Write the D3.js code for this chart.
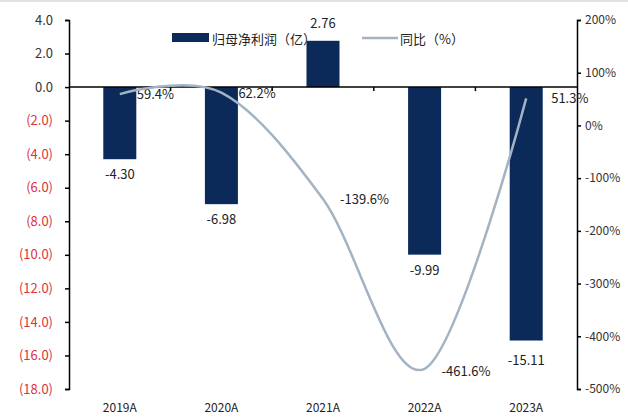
<!DOCTYPE html>
<html><head><meta charset="utf-8">
<script src="https://cdn.jsdelivr.net/npm/d3@7"></script>
<style>body{margin:0;background:#fff}svg{display:block}text{font-family:"Noto Sans CJK SC","DejaVu Sans",sans-serif}</style>
</head><body><svg id="c" width="628" height="418"></svg>
<script>
const categories = ["2019A","2020A","2021A","2022A","2023A"];
const profit = [-4.30,-6.98,2.76,-9.99,-15.11];
const profitLabels = ["-4.30","-6.98","2.76","-9.99","-15.11"];
const yoy = [59.4,62.2,-139.6,-461.6,51.3];
const yoyLabels = ["59.4%","62.2%","-139.6%","-461.6%","51.3%"];
const leftTicks = [4,2,0,-2,-4,-6,-8,-10,-12,-14,-16,-18];
const rightTicks = [200,100,0,-100,-200,-300,-400,-500];
const seriesNames = ["归母净利润（亿）","同比（%）"];

const svg = d3.select("#c");
const L = 69, R = 577, T = 20, B = 389;
const x = d3.scaleBand().domain(categories).range([L,R]).paddingInner(0.675).paddingOuter(0.3375);
const xb = d3.scaleBand().domain(categories).range([L,R]);
const yL = d3.scaleLinear().domain([-18,4]).range([B,T]);
const yR = d3.scaleLinear().domain([-500,200]).range([B,T]);
const navy = "#0b2a59", lineCol = "#a3b3c3", red = "#e0303c";
const cx = i => xb(categories[i]) + xb.bandwidth()/2;

svg.append("rect").attr("x",0).attr("y",0).attr("width",628).attr("height",2).attr("fill","#e2e2e2");

// bars
svg.selectAll("rect.bar").data(profit).join("rect").attr("class","bar")
  .attr("x",(d,i)=>x(categories[i])).attr("width",x.bandwidth())
  .attr("y",d=>yL(Math.max(0,d))).attr("height",d=>Math.abs(yL(d)-yL(0)))
  .attr("fill",navy);

// left axis
const la = svg.append("g").attr("transform",`translate(${L},0)`)
  .call(d3.axisLeft(yL).tickValues(leftTicks).tickSize(4).tickPadding(12)
    .tickFormat(d=> d<0 ? "("+Math.abs(d).toFixed(1)+")" : d.toFixed(1)));
la.select(".domain").attr("stroke","#000").attr("stroke-width",1.5);
la.selectAll(".tick line").attr("stroke","#000").attr("stroke-width",1.5);
la.selectAll(".tick text").attr("font-size",13).attr("fill",d=>d<0?red:"#333");

// right axis
const ra = svg.append("g").attr("transform",`translate(${R},0)`)
  .call(d3.axisRight(yR).tickValues(rightTicks).tickSize(4).tickPadding(4).tickFormat(d=>d+"%"));
ra.select(".domain").attr("stroke","#000").attr("stroke-width",1.5);
ra.selectAll(".tick line").attr("stroke","#000").attr("stroke-width",1.5);
ra.selectAll(".tick text").attr("font-size",12).attr("fill","#333");

// x axis at zero
const y0 = yL(0);
svg.append("line").attr("x1",L).attr("x2",R).attr("y1",y0).attr("y2",y0).attr("stroke","#000").attr("stroke-width",1.5);
svg.selectAll("line.xt").data(categories.slice(1)).join("line").attr("class","xt")
  .attr("x1",d=>xb(d)).attr("x2",d=>xb(d)).attr("y1",y0).attr("y2",y0+4).attr("stroke","#000").attr("stroke-width",1.5);
svg.selectAll("text.cat").data(categories).join("text").attr("class","cat")
  .attr("x",d=>xb(d)+xb.bandwidth()/2).attr("y",412).attr("text-anchor","middle")
  .attr("font-size",12).attr("fill","#222").text(d=>d);

// line labels (under line)
const lOff = [[17,5],[17,5],[17,5],[17,7],[25,5]];
svg.selectAll("text.ll").data(yoy).join("text").attr("class","ll")
  .attr("x",(d,i)=>cx(i)+lOff[i][0])
  .attr("y",(d,i)=>yR(d)+lOff[i][1])
  .attr("font-size",13).attr("fill","#222")
  .text((d,i)=>yoyLabels[i]);

// line
const line = d3.line().x((d,i)=>cx(i)).y(d=>yR(d)).curve(d3.curveCardinal.tension(0));
svg.append("path").datum(yoy).attr("d",line).attr("fill","none").attr("stroke",lineCol).attr("stroke-width",2.5);

// bar labels
svg.selectAll("text.bl").data(profit).join("text").attr("class","bl")
  .attr("x",(d,i)=>cx(i))
  .attr("y",(d,i)=> d>=0 ? yL(d)-13 : yL(d)+(i===4?24:20))
  .attr("text-anchor","middle").attr("font-size",13).attr("fill","#222")
  .text((d,i)=>profitLabels[i]);

// legend
svg.append("rect").attr("x",172).attr("y",33).attr("width",37).attr("height",9).attr("fill",navy);
svg.append("text").attr("x",212).attr("y",44).attr("font-size",13).attr("fill","#222").text(seriesNames[0]);
svg.append("line").attr("x1",362).attr("x2",398).attr("y1",38).attr("y2",38).attr("stroke",lineCol).attr("stroke-width",2.5);
svg.append("text").attr("x",400).attr("y",44).attr("font-size",13).attr("fill","#222").text(seriesNames[1]);
</script></body></html>
